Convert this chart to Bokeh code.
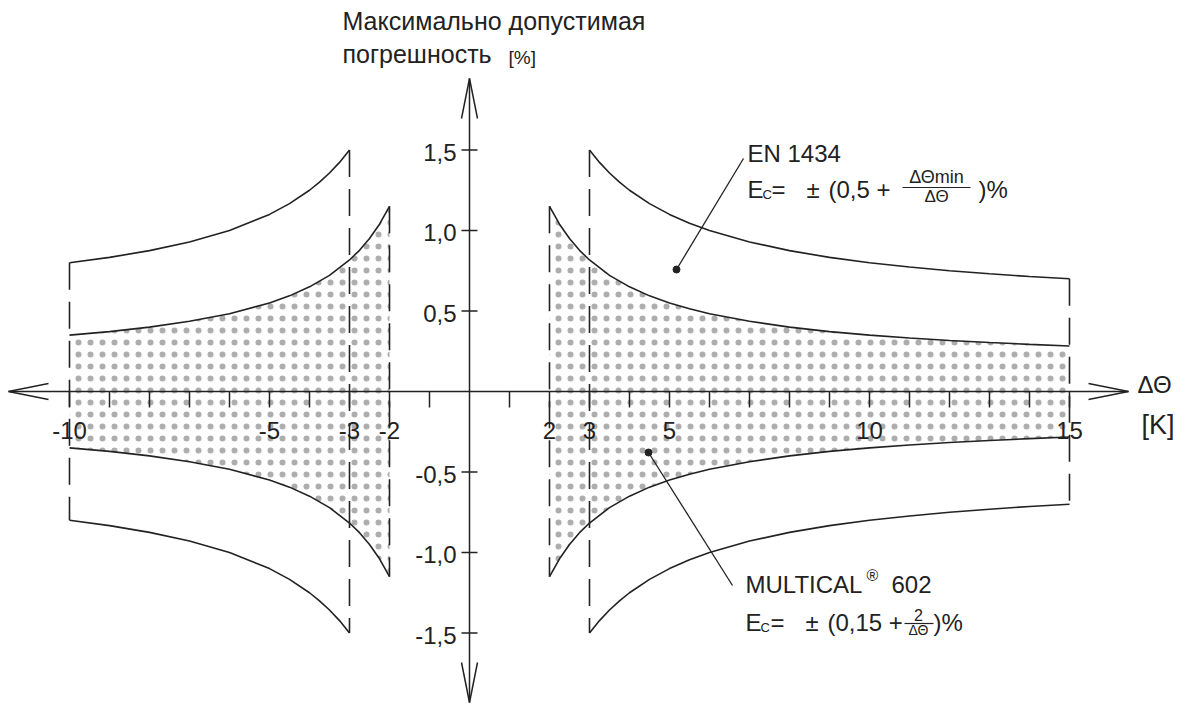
from bokeh.plotting import figure
from bokeh.models import Range1d, Label
from bokeh.embed import file_html
from bokeh.resources import INLINE

# ---------------- data ----------------
# EN 1434 outer limit, upper branch
en_x_left = [-10, -9, -8, -7, -6, -5, -4.5, -4, -3.75, -3.5, -3.25, -3]
en_y_left = [0.8, 0.833, 0.875, 0.929, 1.0, 1.1, 1.167, 1.25, 1.3, 1.357, 1.423, 1.5]
en_x_right = [3, 3.25, 3.5, 3.75, 4, 4.5, 5, 5.5, 6, 7, 8, 9, 10, 11, 12, 13, 14, 15]
en_y_right = [1.5, 1.423, 1.357, 1.3, 1.25, 1.167, 1.1, 1.045, 1.0, 0.929, 0.875,
              0.833, 0.8, 0.773, 0.75, 0.731, 0.714, 0.7]
# MULTICAL 602 limit, upper branch
mc_x_left = [-10, -9, -8, -7, -6, -5, -4.5, -4, -3.5, -3, -2.75, -2.5, -2.25, -2]
mc_y_left = [0.35, 0.372, 0.4, 0.436, 0.483, 0.55, 0.594, 0.65, 0.721, 0.817,
             0.877, 0.95, 1.039, 1.15]
mc_x_right = [2, 2.25, 2.5, 2.75, 3, 3.5, 4, 4.5, 5, 5.5, 6, 7, 8, 9, 10, 11, 12, 13, 14, 15]
mc_y_right = [1.15, 1.039, 0.95, 0.877, 0.817, 0.721, 0.65, 0.594, 0.55, 0.514, 0.483,
              0.436, 0.4, 0.372, 0.35, 0.332, 0.317, 0.304, 0.293, 0.283]
# dashed boundary lines
bound_x = [-10, -3, -2, 2, 3, 15]
bound_top = [0.8, 1.5, 1.15, 1.15, 1.5, 0.7]
# ticks and tick labels
x_minor_ticks = [-10, -9, -8, -7, -6, -5, -4, -3, -2, -1, 1, 2, 3, 4, 5, 6, 7,
                 8, 9, 10, 11, 12, 13, 14, 15]
x_label_pos = [-10, -5, -3, -2, 2, 3, 5, 10, 15]
x_label_txt = ["-10", "-5", "-3", "-2", "2", "3", "5", "10", "15"]
y_tick_pos = [1.5, 1.0, 0.5, -0.5, -1.0, -1.5]
y_tick_txt = ["1,5", "1,0", "0,5", "-0,5", "-1,0", "-1,5"]

# ---------------- layout helpers ----------------
W, H = 1188, 704
PAGE = 0
X0, SX = 469.0, 40.0     # page x of x=0, px per unit
Y0, SY = 391.0, 161.0    # page y of y=0, px per unit
BASE_FIX = 0.37          # text baseline correction (fraction of font size)


def dx(px):
    return (px - X0) / SX


def dy(py):
    return (Y0 - py) / SY


FONT = "Liberation Sans"
INK = "#222222"

p = figure(width=W, height=H, output_backend="svg", toolbar_location=None,
           x_range=Range1d(dx(PAGE), dx(PAGE + W)),
           y_range=Range1d(dy(PAGE + H), dy(PAGE)),
           min_border=0)
p.axis.visible = False
p.grid.visible = False
p.outline_line_color = None
p.background_fill_color = "white"

# stippled area between MULTICAL limits
for xs, ys in ((mc_x_left, mc_y_left), (mc_x_right, mc_y_right)):
    p.varea(x=xs, y1=[-v for v in ys], y2=ys, fill_color="white", fill_alpha=0,
            hatch_pattern="dot", hatch_scale=12, hatch_weight=0.5,
            hatch_color="#333333", hatch_alpha=0.4)

# curves
for xs, ys in ((en_x_left, en_y_left), (en_x_right, en_y_right),
               (mc_x_left, mc_y_left), (mc_x_right, mc_y_right)):
    p.line(xs, ys, line_color=INK, line_width=1.6)
    p.line(xs, [-v for v in ys], line_color=INK, line_width=1.6)

# dashed boundaries
p.segment(x0=bound_x, y0=bound_top, x1=bound_x, y1=[-v for v in bound_top],
          line_color=INK, line_width=1.6, line_dash="27 12")

# axes with open arrowheads
xa0, xa1 = dx(8), dx(1128)
ya1, ya0 = dy(78), dy(702)
p.segment(x0=[xa0, 0], y0=[0, ya0], x1=[xa1, 0], y1=[0, ya1],
          line_color=INK, line_width=1.5)
hl_x, hw_x = 40 / SX, 8 / SY     # horizontal arrow: length, half width
hl_y, hw_y = 40 / SY, 8 / SX     # vertical arrow
p.multi_line(
    xs=[[xa0 + hl_x, xa0, xa0 + hl_x], [xa1 - hl_x, xa1, xa1 - hl_x],
        [-hw_y, 0, hw_y], [-hw_y, 0, hw_y]],
    ys=[[hw_x, 0, -hw_x], [hw_x, 0, -hw_x],
        [ya1 - hl_y, ya1, ya1 - hl_y], [ya0 + hl_y, ya0, ya0 + hl_y]],
    line_color=INK, line_width=1.5)

# ticks
tk = 16 / SY
p.segment(x0=x_minor_ticks, y0=[0] * len(x_minor_ticks), x1=x_minor_ticks,
          y1=[-tk] * len(x_minor_ticks), line_color=INK, line_width=1.5)
tw = 8 / SX
p.segment(x0=[-tw] * len(y_tick_pos), y0=y_tick_pos, x1=[tw] * len(y_tick_pos),
          y1=y_tick_pos, line_color=INK, line_width=1.5)


def lab(text, px, py, size, align="left", color=INK):
    p.add_layout(Label(x=dx(px), y=dy(py - BASE_FIX * size), text=text, text_font=FONT,
                       text_font_size=f"{size}px", text_color=color,
                       text_align=align, text_baseline="alphabetic"))


# tick labels
for v, t in zip(x_label_pos, x_label_txt):
    lab(t, X0 + SX * v, 439, 24, align="center")
for v, t in zip(y_tick_pos, y_tick_txt):
    lab(t, 456, Y0 - SY * v + 11, 24, align="right")

# axis titles
lab("Максимально допустимая", 342, 30, 25)
lab("погрешность", 342, 63, 25)
lab("[%]", 508, 64, 19)
lab("ΔΘ", 1137, 393, 24)
lab("[K]", 1141, 434, 27)

# EN 1434 annotation
lab("EN 1434", 747, 162, 24)
lab("E", 747, 198, 24)
lab("C", 762, 199, 13)
lab("=", 771, 198, 24)
lab("±", 806, 198, 24)
lab("(0,5 +", 828, 198, 24)
lab("ΔΘmin", 936, 183, 18, align="center")
lab("ΔΘ", 936, 202, 17, align="center")
lab(")%", 978, 198, 24)
p.segment(x0=[dx(902)], y0=[dy(187)], x1=[dx(970)], y1=[dy(187)],
          line_color=INK, line_width=1.2)

# MULTICAL 602 annotation
lab("MULTICAL", 745, 593, 24)
lab("®", 866, 581, 16)
lab("602", 891, 593, 24)
lab("E", 745, 631, 24)
lab("C", 760, 632, 13)
lab("=", 770, 631, 24)
lab("±", 805, 631, 24)
lab("(0,15 +", 827, 631, 24)
lab("2", 918, 620, 16, align="center")
lab("ΔΘ", 918, 635, 14, align="center")
lab(")%", 933, 631, 24)
p.segment(x0=[dx(904)], y0=[dy(623)], x1=[dx(933)], y1=[dy(623)],
          line_color=INK, line_width=1.2)

# leader lines with dots
p.segment(x0=[dx(676), dx(648)], y0=[dy(269), dy(452)],
          x1=[dx(743), dx(732)], y1=[dy(158), dy(585)],
          line_color=INK, line_width=1.3)
p.scatter(x=[dx(676), dx(648)], y=[dy(269), dy(452)], size=7,
          color=INK)

open("out.html", "w").write(file_html(p, INLINE))
